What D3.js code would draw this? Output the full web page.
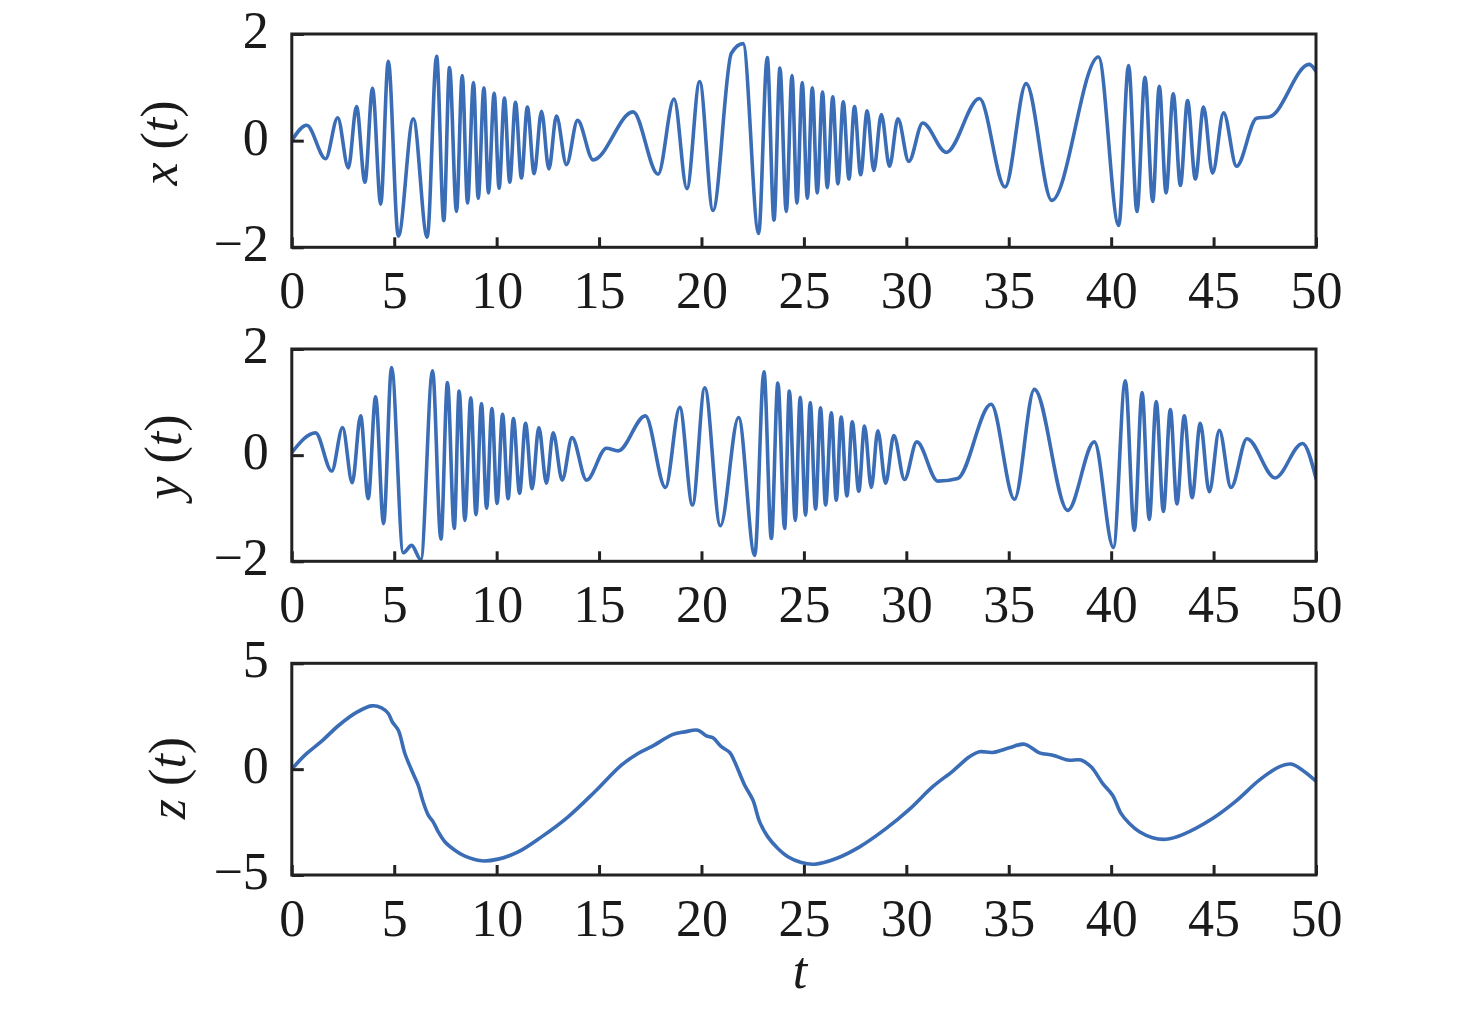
<!DOCTYPE html>
<html>
<head>
<meta charset="utf-8">
<script src="https://cdn.jsdelivr.net/npm/d3@7/dist/d3.min.js"></script>
<style>
  html, body { margin: 0; padding: 0; background: #fff; }
  svg { display: block; }
  text { font-family: "Liberation Serif", "Times New Roman", serif; fill: #1a1a1a; }
</style>
</head>
<body>
<svg id="chart" width="1476" height="1012"></svg>
<script>
// ---------- data ----------
const tX = [0,0.73,1.65,2.24,2.76,3.16,3.57,3.94,4.34,4.71,5.2,5.93,6.61,7.07,7.42,7.7,8.04,8.32,8.58,8.87,9.1,9.38,9.6,9.88,10.12,10.38,10.64,10.92,11.21,11.5,11.83,12.19,12.55,12.92,13.41,13.95,14.71,16.66,17.88,18.66,19.29,19.91,20.56,21.46,22.03,22.79,23.21,23.54,23.83,24.14,24.42,24.66,24.92,25.17,25.41,25.65,25.91,26.14,26.41,26.66,26.92,27.2,27.47,27.77,28.09,28.41,28.78,29.18,29.59,30.12,30.8,31.95,33.57,34.82,35.85,37.1,39.38,40.37,40.85,41.26,41.65,42.03,42.35,42.68,43.03,43.38,43.73,44.11,44.51,44.95,45.49,46.12,47.1,47.75,49.67,50];
const xVals = [0,0.29,-0.34,0.43,-0.51,0.64,-0.78,0.98,-1.19,1.49,-1.79,0.41,-1.81,1.58,-1.5,1.37,-1.33,1.22,-1.17,1.09,-1.08,0.99,-0.98,0.89,-0.89,0.8,-0.78,0.72,-0.7,0.63,-0.62,0.55,-0.53,0.46,-0.45,0.38,-0.36,0.54,-0.63,0.78,-0.9,1.11,-1.31,1.64,1.82,-1.74,1.56,-1.49,1.36,-1.33,1.22,-1.17,1.09,-1.08,0.99,-0.98,0.91,-0.88,0.82,-0.81,0.73,-0.72,0.64,-0.64,0.56,-0.56,0.49,-0.48,0.41,-0.39,0.33,-0.22,0.79,-0.87,1.07,-1.12,1.57,-1.59,1.41,-1.33,1.19,-1.14,1.02,-0.98,0.88,-0.84,0.75,-0.72,0.63,-0.61,0.52,-0.48,0.42,0.45,1.43,1.3];

const tY = [0,1.16,1.95,2.48,2.95,3.36,3.73,4.09,4.48,4.87,5.44,5.85,6.3,6.87,7.28,7.6,7.93,8.17,8.45,8.74,8.99,9.26,9.51,9.77,10.02,10.29,10.56,10.82,11.12,11.41,11.73,12.06,12.43,12.76,13.2,13.68,14.39,15.36,15.93,17.26,18.24,18.94,19.56,20.16,20.92,21.81,22.6,23.05,23.41,23.73,24.06,24.29,24.58,24.82,25.08,25.31,25.57,25.81,26.06,26.34,26.58,26.82,27.1,27.36,27.68,27.96,28.29,28.61,28.99,29.39,29.91,30.51,31.54,32.51,34.14,35.28,36.25,37.88,39.18,40.11,40.69,41.13,41.51,41.86,42.2,42.55,42.89,43.21,43.57,43.95,44.35,44.79,45.28,45.85,46.63,48.0,49.34,50];
const yVals = [0.05,0.42,-0.3,0.52,-0.52,0.74,-0.82,1.1,-1.29,1.65,-1.84,-1.7,-1.97,1.59,-1.58,1.37,-1.38,1.21,-1.23,1.08,-1.12,0.97,-1.0,0.88,-0.91,0.77,-0.82,0.69,-0.72,0.6,-0.63,0.52,-0.53,0.42,-0.47,0.33,-0.47,0.13,0.08,0.74,-0.61,0.9,-0.94,1.27,-1.33,0.71,-1.89,1.57,-1.57,1.36,-1.38,1.21,-1.23,1.09,-1.13,0.99,-1.02,0.89,-0.94,0.8,-0.85,0.72,-0.77,0.63,-0.68,0.55,-0.61,0.46,-0.53,0.37,-0.46,0.25,-0.49,-0.44,0.96,-0.83,1.24,-1.04,0.25,-1.74,1.4,-1.42,1.18,-1.21,1.01,-1.06,0.86,-0.92,0.74,-0.8,0.6,-0.69,0.47,-0.61,0.31,-0.43,0.22,-0.44];

const tZ = [0,0.64,1.46,2.27,3.16,3.9,4.38,4.71,4.9,5.2,5.52,5.85,6.17,6.41,6.66,6.9,7.15,7.47,7.96,8.45,9.26,10.07,11.05,12.19,13.49,14.79,16.09,16.9,17.56,18.61,19.18,19.83,20.24,20.56,20.97,21.38,21.62,22.11,22.51,22.84,23.24,23.73,24.22,24.87,25.52,26.58,27.72,29.02,30.16,31.29,32.27,33.08,33.57,34.22,35.03,35.77,36.5,37.15,37.88,38.53,39.02,39.59,40.07,40.48,40.89,41.38,42.02,42.68,43.49,44.95,46.09,47.23,48.2,48.78,49.34,50];
const zVals = [0,0.66,1.32,2.05,2.68,2.99,2.9,2.63,2.24,1.84,0.74,-0.05,-0.76,-1.54,-2.17,-2.49,-2.96,-3.43,-3.83,-4.11,-4.33,-4.25,-3.91,-3.2,-2.25,-1.07,0.19,0.74,1.06,1.64,1.76,1.84,1.57,1.48,1.06,0.79,0.35,-0.76,-1.46,-2.49,-3.2,-3.75,-4.14,-4.41,-4.49,-4.22,-3.67,-2.8,-1.89,-0.83,-0.09,0.58,0.82,0.79,1.01,1.18,0.77,0.66,0.43,0.43,0.11,-0.68,-1.23,-2.09,-2.57,-2.96,-3.24,-3.31,-3.09,-2.33,-1.51,-0.52,0.11,0.24,-0.05,-0.57];

const tTicks = [0,5,10,15,20,25,30,35,40,45,50];
const xyTicks = [-2,0,2];
const zTicks = [-5,0,5];
const panelLabels = [["x"," (","t",")"],["y"," (","t",")"],["z"," (","t",")"]];
const timeLabel = "t";

// ---------- layout ----------
const svg = d3.select("#chart");
const left = 291.8, right = 1316;
const panels = [
  {t: tX, v: xVals, dom: [-2, 2], ticks: xyTicks, top: 34, bottom: 247.3, lab: panelLabels[0], labX: 177, labY: 143, curve: d3.curveMonotoneX},
  {t: tY, v: yVals, dom: [-2, 2], ticks: xyTicks, top: 349, bottom: 561.3, lab: panelLabels[1], labX: 181, labY: 457, curve: d3.curveMonotoneX},
  {t: tZ, v: zVals, dom: [-5, 5], ticks: zTicks, top: 663.3, bottom: 875, lab: panelLabels[2], labX: 185, labY: 778, curve: d3.curveCatmullRom.alpha(0.5)}
];

const x = d3.scaleLinear().domain([0, 50]).range([left, right]);
const lineColor = "#3a6db5";
const axisColor = "#222";
const fs = 52;
const frameW = 3;

panels.forEach((p, i) => {
  const y = d3.scaleLinear().domain(p.dom).range([p.bottom, p.top]);
  const g = svg.append("g");

  const cid = "clip" + i;
  svg.append("clipPath").attr("id", cid).append("rect")
    .attr("x", left).attr("y", p.top - 2).attr("width", right - left).attr("height", p.bottom - p.top + 4);

  const data = p.t.map((t, k) => [t, p.v[k]]);
  const line = d3.line().x(d => x(d[0])).y(d => y(d[1])).curve(p.curve);
  g.append("path").datum(data)
    .attr("d", line)
    .attr("fill", "none")
    .attr("stroke", lineColor)
    .attr("stroke-width", 3.6)
    .attr("stroke-linejoin", "round")
    .attr("stroke-linecap", "round")
    .attr("clip-path", `url(#${cid})`);

  const ax = g.append("g").attr("transform", `translate(0,${p.bottom})`)
    .call(d3.axisBottom(x).tickValues(tTicks).tickSize(-10).tickPadding(24).tickFormat(d3.format("d")));
  ax.select(".domain").remove();
  ax.selectAll(".tick line").attr("stroke", axisColor).attr("stroke-width", frameW);
  ax.selectAll(".tick text").attr("font-size", fs).attr("fill", "#1a1a1a")
    .attr("font-family", '"Liberation Serif", serif');

  const ay = g.append("g").attr("transform", `translate(${left},0)`)
    .call(d3.axisLeft(y).tickValues(p.ticks).tickSize(-12).tickPadding(23).tickFormat(d3.format("d")));
  ay.select(".domain").remove();
  ay.selectAll(".tick line").attr("stroke", axisColor).attr("stroke-width", frameW);
  ay.selectAll(".tick text").attr("font-size", fs).attr("fill", "#1a1a1a").attr("dy", "0.26em")
    .attr("font-family", '"Liberation Serif", serif');

  g.append("rect").attr("x", left).attr("y", p.top)
    .attr("width", right - left).attr("height", p.bottom - p.top)
    .attr("fill", "none").attr("stroke", axisColor).attr("stroke-width", frameW);

  const t = g.append("text")
    .attr("transform", `translate(${p.labX},${p.labY}) rotate(-90)`)
    .attr("text-anchor", "middle").attr("font-size", fs);
  t.append("tspan").attr("font-style", "italic").text(p.lab[0]);
  t.append("tspan").text(p.lab[1]);
  t.append("tspan").attr("font-style", "italic").text(p.lab[2]);
  t.append("tspan").text(p.lab[3]);
});

svg.append("text").attr("x", 800).attr("y", 988).attr("text-anchor", "middle")
  .attr("font-size", fs).attr("font-style", "italic").text(timeLabel);
</script>
</body>
</html>
